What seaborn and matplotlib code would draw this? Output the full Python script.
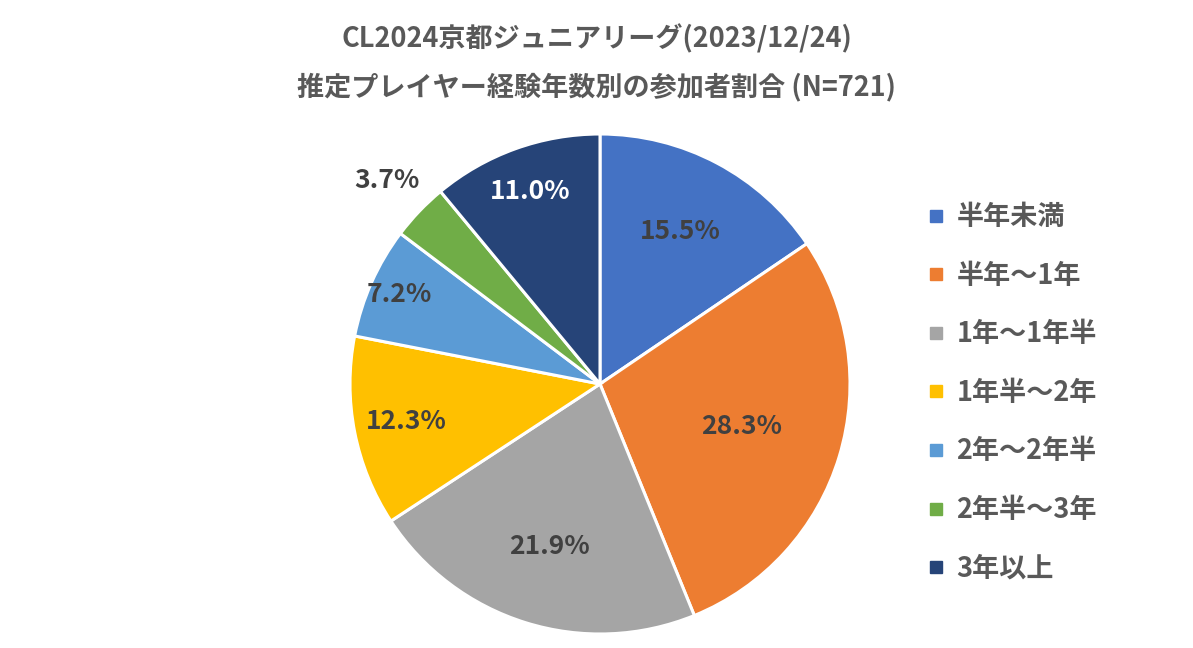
import numpy as np
import seaborn as sns
import matplotlib.pyplot as plt
from matplotlib.lines import Line2D

categories = ['半年未満', '半年～1年', '1年～1年半', '1年半～2年', '2年～2年半', '2年半～3年', '3年以上']
shares = [15.5, 28.3, 21.9, 12.3, 7.2, 3.7, 11.0]
colors = ['#4472C4', '#ED7D31', '#A5A5A5', '#FFC000', '#5B9BD5', '#70AD47', '#264478']
title = 'CL2024京都ジュニアリーグ(2023/12/24)\n推定プレイヤー経験年数別の参加者割合 (N=721)'

sns.set_theme(style='white')
plt.rcParams['font.family'] = ['Noto Sans CJK JP', 'DejaVu Sans']

text_gray = '#595959'
label_r = [0.69, 0.59, 0.68, 0.79, 0.88, 1.18, 0.82]  # Excel "best fit" label spots
label_col = ['#404040'] * 6 + ['white']

fig = plt.figure(figsize=(11.93, 6.48), dpi=100)
ax = fig.add_axes([350 / 1193, 14 / 648, 500 / 1193, 500 / 648])

wedges, _ = ax.pie(shares, colors=colors, startangle=90, counterclock=False,
                   wedgeprops=dict(edgecolor='white', linewidth=2.2))
ax.set_xlim(-1, 1)
ax.set_ylim(-1, 1)
ax.set_aspect('equal')

for w, v, r, c in zip(wedges, shares, label_r, label_col):
    ang = np.deg2rad((w.theta1 + w.theta2) / 2)
    ax.text(r * np.cos(ang), r * np.sin(ang), f'{v:.1f}%', ha='center', va='center',
            fontsize=19, fontweight='bold', color=c)

fig.text(0.5, 0.903, title, ha='center', va='center', fontsize=19.5,
         fontweight='bold', color=text_gray, linespacing=1.85)

handles = [Line2D([0], [0], marker='s', linestyle='none', markersize=8,
                  markerfacecolor=c, markeredgecolor=c) for c in colors]
leg = fig.legend(handles, categories, loc='upper left', bbox_to_anchor=(928 / 1193, 1 - 203 / 648),
                 frameon=False, fontsize=19.5, labelspacing=1.13, handlelength=0.6,
                 handletextpad=0.45, borderpad=0, borderaxespad=0)
for t in leg.get_texts():
    t.set_color(text_gray)
    t.set_fontweight('bold')

fig.savefig('out.png', dpi=100, facecolor='white')
